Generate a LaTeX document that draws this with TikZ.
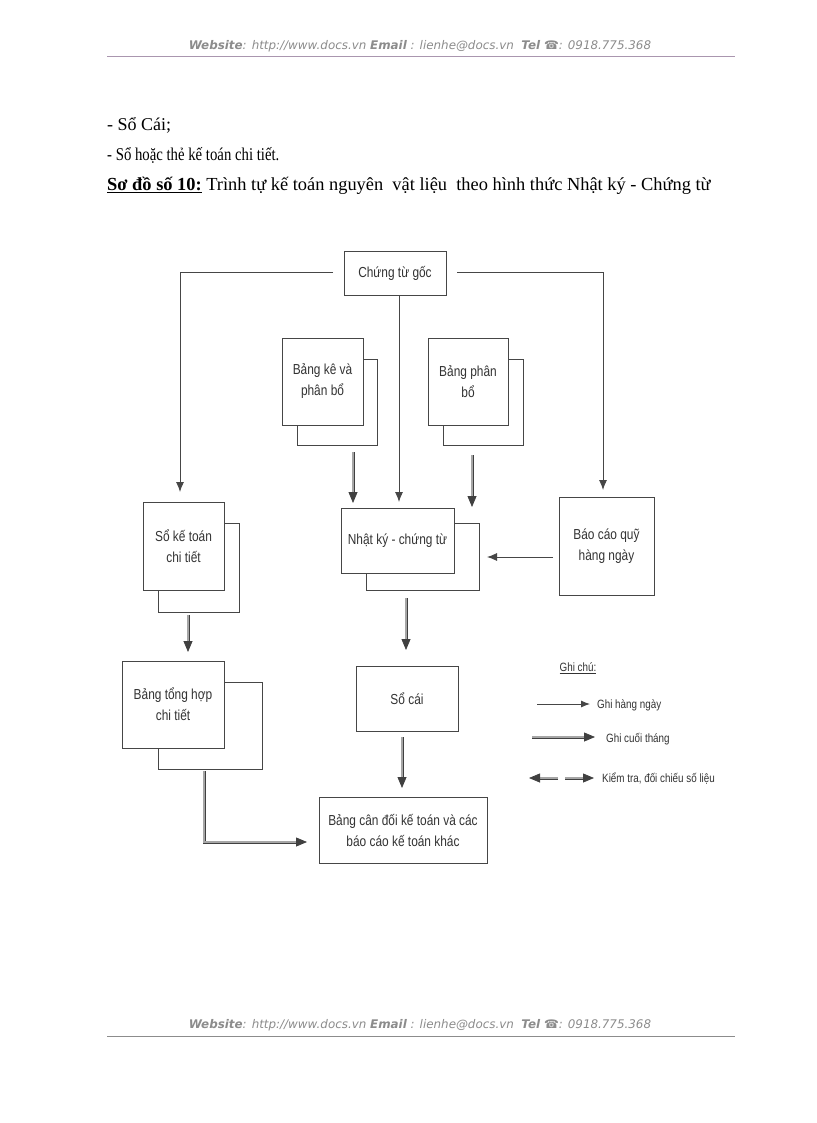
\documentclass[tikz,border=0pt]{standalone}
\usepackage{fontspec}
\setmainfont{Liberation Serif}
\newfontfamily\dfont[FakeStretch=0.82]{Liberation Sans}
\newfontfamily\hfont{DejaVu Sans}
\usetikzlibrary{arrows.meta}
\definecolor{hdr}{RGB}{140,140,140}
\definecolor{hline}{RGB}{170,150,175}
\definecolor{ln}{RGB}{70,70,70}
\begin{document}
\begin{tikzpicture}[x=1pt,y=-1pt,
  box/.style={draw=ln, line width=1pt, fill=white, inner sep=2pt, align=center,
    font=\dfont\fontsize{14.5}{21}\selectfont, text=black!80},
  back/.style={draw=ln, line width=1pt, fill=white},
  thin/.style={draw=ln, line width=0.9pt, -{Latex[length=10pt,width=8pt]}},
  dbl/.style={draw=black!75, line width=0.8pt, double=black!35, double distance=1.4pt,
    -{Triangle[length=11pt,width=9pt]}},
  body/.style={anchor=base west, inner sep=0pt, font=\fontsize{18}{21}\selectfont},
  hdrtxt/.style={inner sep=0pt, text=hdr, font=\hfont\fontsize{11.9}{13}\selectfont\itshape},
  leg/.style={anchor=west, inner sep=0pt, font=\dfont\fontsize{12}{14}\selectfont, text=black!80}
]
\useasboundingbox (0,0) rectangle (816,1123);
\fill[white] (0,0) rectangle (816,1123);

% header and footer
\node[hdrtxt] (hd) at (420,46) {\textbf{Website}: http://www.docs.vn \textbf{Email} : lienhe@docs.vn \ \textbf{Tel} ☎: 0918.775.368};
\draw[hline, line width=1pt] (107,57) -- (735,57);
\node[hdrtxt] (ft) at (420,1025) {\textbf{Website}: http://www.docs.vn \textbf{Email} : lienhe@docs.vn \ \textbf{Tel} ☎: 0918.775.368};
\draw[black!45, line width=0.8pt] (107,1036) -- (735,1036);

% body text
\node[body] (l1) at (107,131) {- Sổ Cái;};
\node[body] (l2) at (107,161) {\scalebox{0.82}[1]{- Sổ hoặc thẻ kế toán chi tiết.}};
\node[body, font=\fontsize{18.4}{21}\selectfont] (l3) at (107,191) {\underline{\textbf{Sơ đồ số 10:}} Trình tự kế toán nguyên \ vật liệu \ theo hình thức Nhật ký - Chứng từ};

% boxes
\node[box, minimum width=102pt, minimum height=44pt] (cg) at (395,273) {Chứng từ gốc};

\node[back, minimum width=80pt, minimum height=86pt] (bkb) at (337,402) {};
\node[box, minimum width=81pt, minimum height=87pt] (bk) at (322.5,381.5) {Bảng kê và\\phân bổ};

\node[back, minimum width=80pt, minimum height=86pt] (bpb) at (483,402) {};
\node[box, minimum width=80pt, minimum height=87pt] (bp) at (468,381.5) {Bảng phân\\bổ};

\node[back, minimum width=113pt, minimum height=67pt] (nkb) at (422.5,556.5) {};
\node[box, minimum width=113pt, minimum height=65pt] (nk) at (397.5,540.5) {Nhật ký - chứng từ};

\node[box, minimum width=95pt, minimum height=98pt] (bc) at (606.5,546) {Báo cáo quỹ\\hàng ngày};

\node[back, minimum width=81pt, minimum height=89pt] (skb) at (198.5,567.5) {};
\node[box, minimum width=81pt, minimum height=88pt] (sk) at (183.5,546) {Sổ kế toán\\chi tiết};

\node[back, minimum width=104pt, minimum height=87pt] (thb) at (210,725.5) {};
\node[box, minimum width=102pt, minimum height=87pt] (th) at (173,704.5) {Bảng tổng hợp\\chi tiết};

\node[box, minimum width=102pt, minimum height=65pt] (sc) at (407,698.5) {Sổ cái};

\node[box, minimum width=168pt, minimum height=66pt] (cd) at (403,830) {Bảng cân đối kế toán và các\\báo cáo kế toán khác};

% connectors
\coordinate (cgL) at (333,272);
\coordinate (cgR) at (457,272);
\coordinate (skT) at (180,492);
\coordinate (bcT) at (603,490);
\draw[thin] (cgL) -| (skT);
\draw[thin] (cgR) -| (bcT);
\coordinate (cgB) at (399,295);
\coordinate (nkT) at (399,502);
\draw[thin] (cgB) -- (nkT);

\coordinate (bkS) at (353,452);
\coordinate (bkE) at (353,503);
\draw[dbl] (bkS) -- (bkE);
\coordinate (bpS) at (472,455);
\coordinate (bpE) at (472,507);
\draw[dbl] (bpS) -- (bpE);

\coordinate (bcW) at (553,557);
\coordinate (nkE) at (487,557);
\draw[thin] (bcW) -- (nkE);

\coordinate (skS) at (188,615);
\coordinate (thT) at (188,652);
\draw[dbl] (skS) -- (thT);

\coordinate (nkS) at (406,598);
\coordinate (scT) at (406,650);
\draw[dbl] (nkS) -- (scT);

\coordinate (scS) at (402,737);
\coordinate (cdT) at (402,788);
\draw[dbl] (scS) -- (cdT);

\coordinate (thS) at (204,771);
\coordinate (cdW) at (307,842);
\draw[dbl] (thS) |- (cdW);

% legend
\node[leg, anchor=center] (gc) at (578,668) {\underline{Ghi chú:}};
\coordinate (a1s) at (537,704);
\coordinate (a1e) at (590,704);
\draw[thin, -{Latex[length=9pt,width=7pt]}] (a1s) -- (a1e);
\node[leg] (t1) at (597,705) {Ghi hàng ngày};
\coordinate (a2s) at (532,737);
\coordinate (a2e) at (595,737);
\draw[dbl] (a2s) -- (a2e);
\node[leg] (t2) at (606,739) {Ghi cuối tháng};
\coordinate (a3s) at (558,778);
\coordinate (a3e) at (529,778);
\draw[dbl] (a3s) -- (a3e);
\coordinate (a4s) at (565,778);
\coordinate (a4e) at (594,778);
\draw[dbl] (a4s) -- (a4e);
\node[leg] (t3) at (602,779) {Kiểm tra, đối chiếu số liệu};
\end{tikzpicture}
\end{document}
